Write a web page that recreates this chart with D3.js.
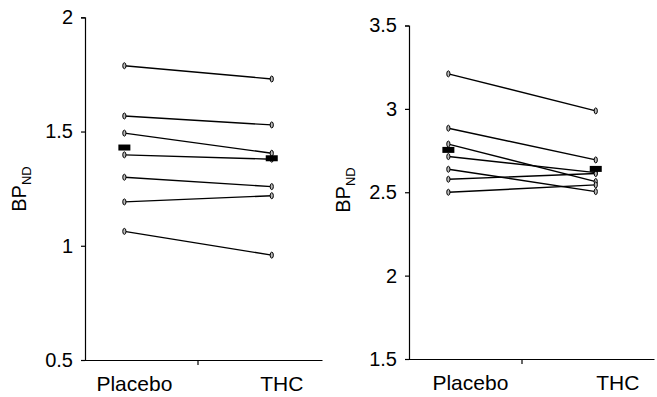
<!DOCTYPE html>
<html>
<head>
<meta charset="utf-8">
<script src="https://cdn.jsdelivr.net/npm/d3@7"></script>
<style>
  body { margin: 0; background: #fff; }
  svg { display: block; }
  text { font-family: "Liberation Sans", Arial, sans-serif; fill: #000; }
</style>
</head>
<body>
<div id="chart"></div>
<script>
// values
const categories = ['Placebo', 'THC'];

const leftPlacebo = [1.788, 1.568, 1.493, 1.398, 1.300, 1.192, 1.063];
const leftTHC = [1.730, 1.529, 1.405, 1.379, 1.259, 1.219, 0.959];
const leftMeans = [1.430, 1.383];
const leftTicks = [0.5, 1, 1.5, 2];

const rightPlacebo = [3.210, 2.884, 2.789, 2.714, 2.638, 2.578, 2.500];
const rightTHC = [2.988, 2.694, 2.564, 2.618, 2.504, 2.612, 2.544];
const rightMeans = [2.754, 2.640];
const rightTicks = [1.5, 2, 2.5, 3, 3.5];

const width = 657, height = 397;

const svg = d3.select('#chart').append('svg')
    .attr('width', width)
    .attr('height', height);

const panels = [
    { placebo: leftPlacebo, thc: leftTHC, means: leftMeans, ticks: leftTicks,
      x0: 85, x1: 322, y0: 17.3, y1: 360, labelShift: 10, titleX: 26, titleY: 189 },
    { placebo: rightPlacebo, thc: rightTHC, means: rightMeans, ticks: rightTicks,
      x0: 409, x1: 654, y0: 25.5, y1: 359, labelShift: 22, titleX: 350, titleY: 190 },
];

// category positions in axis units (middle tick sits at 1)
const catPos = [0.35, 1.66];

panels.forEach(p => {
    const x = d3.scaleLinear().domain([0, (p.x1 - p.x0) / 112.5]).range([p.x0, p.x1]);
    const y = d3.scaleLinear()
        .domain(d3.extent(p.ticks))
        .range([p.y1, p.y0]);

    const g = svg.append('g');

    // y axis
    const yAxis = g.append('g')
        .attr('transform', `translate(${p.x0},0)`)
        .call(d3.axisLeft(y).tickValues(p.ticks).tickSize(4).tickPadding(8)
            .tickFormat(d3.format('')));
    yAxis.select('.domain').attr('stroke', '#000').attr('stroke-width', 1.2);
    yAxis.selectAll('.tick line').attr('stroke', '#000').attr('stroke-width', 1.2);
    yAxis.selectAll('.tick text')
        .style('font-family', '"Liberation Sans", Arial, sans-serif')
        .style('font-size', '20px')
        .attr('fill', '#000');

    // x axis
    const xAxis = g.append('g')
        .attr('transform', `translate(0,${p.y1})`)
        .call(d3.axisBottom(x).tickValues([1]).tickSize(5).tickSizeOuter(0).tickFormat(''));
    xAxis.select('.domain').attr('stroke', '#000').attr('stroke-width', 1.2);
    xAxis.selectAll('.tick line').attr('stroke', '#000').attr('stroke-width', 1.2);

    // category labels
    g.selectAll('.cat')
        .data(categories)
        .join('text')
        .attr('class', 'cat')
        .attr('x', (d, i) => x(catPos[i]) + p.labelShift)
        .attr('y', p.y1 + 31)
        .attr('text-anchor', 'middle')
        .style('font-size', '21px')
        .text(d => d);

    // y title BP_ND
    const title = g.append('text')
        .attr('transform', `translate(${p.titleX},${p.titleY}) rotate(-90)`)
        .attr('text-anchor', 'middle')
        .style('font-size', '20px');
    title.append('tspan').text('BP');
    title.append('tspan').attr('dy', 5).style('font-size', '13px').text('ND');

    // subject lines
    const pairs = p.placebo.map((v, i) => [v, p.thc[i]]);
    g.selectAll('.pair')
        .data(pairs)
        .join('line')
        .attr('class', 'pair')
        .attr('x1', x(catPos[0]))
        .attr('x2', x(catPos[1]))
        .attr('y1', d => y(d[0]))
        .attr('y2', d => y(d[1]))
        .attr('stroke', '#000')
        .attr('stroke-width', 1.4);

    // subject points
    const pts = [];
    pairs.forEach(d => {
        pts.push({ c: 0, v: d[0] });
        pts.push({ c: 1, v: d[1] });
    });
    g.selectAll('.pt')
        .data(pts)
        .join('ellipse')
        .attr('class', 'pt')
        .attr('cx', d => x(catPos[d.c]))
        .attr('cy', d => y(d.v))
        .attr('rx', 1.6)
        .attr('ry', 3)
        .attr('fill', '#bbb')
        .attr('stroke', '#000')
        .attr('stroke-width', 1);

    // group means
    g.selectAll('.mean')
        .data(p.means)
        .join('rect')
        .attr('class', 'mean')
        .attr('x', (d, i) => x(catPos[i]) - 6)
        .attr('y', d => y(d) - 3)
        .attr('width', 12)
        .attr('height', 6)
        .attr('fill', '#000');
});
</script>
</body>
</html>
